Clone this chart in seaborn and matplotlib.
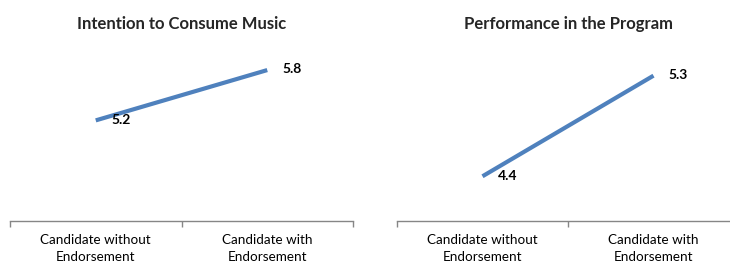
import matplotlib
matplotlib.use("Agg")
import matplotlib.pyplot as plt
import seaborn as sns
import pandas as pd

categories = ["Candidate without\nEndorsement", "Candidate with\nEndorsement"]
titles = ["Intention to Consume Music", "Performance in the Program"]
intention_values = [5.2, 5.8]
performance_values = [4.4, 5.3]
label_texts = [["5.2", "5.8"], ["4.4", "5.3"]]

sns.set_theme(style="white")
plt.rcParams["font.family"] = ["Lato", "DejaVu Sans"]

fig = plt.figure(figsize=(7.30, 2.62), dpi=100)
W, H = 730, 262
positions = [(10, 343), (397, 342)]
ylims = [(4.0, 6.0), (4.0, 5.5)]
series = [intention_values, performance_values]

for i, (x0, w) in enumerate(positions):
    bottom, top = 221, 53.3
    ax = fig.add_axes([x0 / W, 1 - bottom / H, w / W, (bottom - top) / H])
    df = pd.DataFrame({"pos": list(range(len(categories))), "value": series[i]})
    sns.lineplot(data=df, x="pos", y="value", ax=ax, color="#4F81BD", linewidth=3,
                 solid_capstyle="butt")
    ax.set_xlim(-0.5, len(categories) - 0.5)
    ax.set_ylim(*ylims[i])
    for xi, (v, t) in enumerate(zip(series[i], label_texts[i])):
        ax.annotate(t, (xi, v), xytext=(11, 0.5), textcoords="offset points",
                    ha="left", va="center", fontsize=10, fontweight="bold", color="black")
    ax.set_title(titles[i], fontsize=12, fontweight="bold", pad=17.5)
    for s in ["top", "right", "left"]:
        ax.spines[s].set_visible(False)
    ax.spines["bottom"].set_color("#868686")
    ax.spines["bottom"].set_linewidth(1)
    ax.set_yticks([])
    ax.set_xticks(list(range(len(categories))))
    ax.set_xticklabels(categories, fontsize=9.7, linespacing=1.45)
    ax.set_xticks([-0.5, 0.5, 1.5], minor=True)
    ax.tick_params(axis="x", which="major", length=0, pad=9.5, colors="black")
    ax.tick_params(axis="x", which="minor", length=4, width=1, color="#868686", bottom=True)
    ax.set_xlabel("")
    ax.set_ylabel("")

fig.savefig("out.png", dpi=100)
